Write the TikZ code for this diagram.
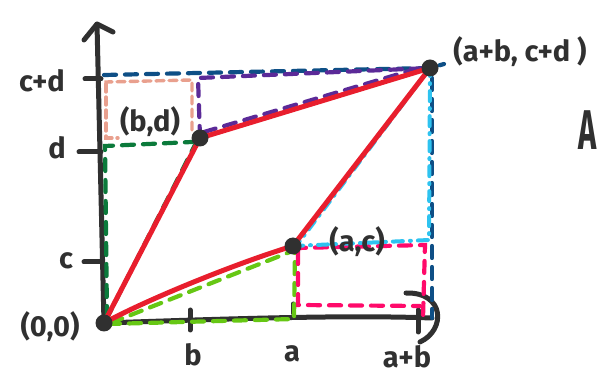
\documentclass[tikz,border=0pt]{standalone}
\usepackage{fontspec}
\setmainfont{Fira Sans}
\usetikzlibrary{calc}
\definecolor{axisc}{HTML}{303030}
\definecolor{redc}{HTML}{E81E2D}
\definecolor{dgreen}{HTML}{0B7A3B}
\definecolor{lgreen}{HTML}{66C714}
\definecolor{salmon}{HTML}{E9A08E}
\definecolor{purp}{HTML}{5B2A98}
\definecolor{dblue}{HTML}{0E4F86}
\definecolor{lblue}{HTML}{2EC3F0}
\definecolor{hpink}{HTML}{FF0A6A}
\tikzset{
  axisline/.style={draw=axisc,line width=5pt,line cap=round,line join=round},
  redline/.style={draw=redc,line width=5pt,line cap=round,line join=round},
  dashline/.style={line width=4.2pt,line cap=round,dash pattern=on 12pt off 9pt},
  dotdash/.style={line width=4pt,line cap=round,dash pattern=on 10pt off 7pt on 1pt off 7pt},
  pt/.style={circle,fill=axisc,inner sep=0pt,minimum size=17pt},
  lab/.style={text=axisc,font=\fontsize{29}{29}\selectfont\bfseries,inner sep=0pt},
}
\begin{document}
\begin{tikzpicture}[x=1pt,y=-1pt]
\useasboundingbox (0,0) rectangle (600,387);
% key points
\coordinate (O) at (104,323);
\coordinate (BD) at (200,138);
\coordinate (AC) at (293,246);
\coordinate (S) at (430,68);
% helper corners
\coordinate (Yd) at (105,146);
\coordinate (Ycd) at (104,75);
\coordinate (Bcd) at (198,78);
\coordinate (Xa) at (294,319);
\coordinate (ABc) at (429,240);
\coordinate (Yend) at (97,24);
\coordinate (Xend) at (432,318);
% axes
\draw[axisline] (O) -- (Yend);
\draw[axisline] (84,40) -- (Yend) -- (113,32);
\draw[axisline] (O) .. controls (250,318) and (350,315) .. (Xend);
\draw[axisline] (406,293) .. controls (445,292) and (446,330) .. (420,342);
% ticks
\draw[axisline] (85,79) -- (101,79);
\draw[axisline] (79,152) -- (101,152);
\draw[axisline] (84,262) -- (101,262);
\draw[axisline] (190,310) -- (190,330);
\draw[axisline] (293,304) -- (293,313);
\draw[axisline] (418,310) -- (418,332);
% salmon rectangle
\draw[dashline,draw=salmon,dash pattern=on 8pt off 5pt,line width=3.4pt] (106,84) -- (106,82) -- (192,80) -- (192,130);
\draw[dashline,draw=salmon,dash pattern=on 8pt off 5pt,line width=3.4pt] (106,84) -- (106,138) -- (118,138);
% dark blue
\draw[dashline,draw=dblue] (Ycd) -- (S) -- ++(14,-4);
\draw[dashline,draw=dblue] ($(S)+(2,10)$) -- (Xend);
% purple triangle
\draw[dashline,draw=purp] (BD) -- (Bcd) -- (S);
\draw[dashline,draw=purp] ($(BD)+(4,-6)$) -- ($(S)+(-4,-2)$);
% dark green triangle
\draw[dashline,draw=dgreen] ($(O)+(3,-5)$) -- (Yd) -- ($(BD)+(-8,4)$);
\draw[dashline,draw=dgreen] ($(O)+(2,-3)$) -- ($(BD)+(-3,3)$);
% light green triangle
\draw[dashline,draw=lgreen] ($(O)+(4,1)$) -- (Xa) -- ($(AC)+(2,4)$) -- cycle;
% hot pink rectangle
\draw[dashline,draw=hpink] (298,252) -- (298,248) -- (425,245) -- (423,318);
\draw[dashline,draw=hpink] (298,252) -- (298,305) -- (420,306);
% light blue triangle
\draw[dotdash,draw=lblue] (AC) -- (ABc) -- (S) -- ($(AC)+(4,-1)$);
% red lines
\draw[redline] (O) -- (BD) -- (S);
\draw[redline] (O) .. controls (150,298) and (240,262) .. (AC) -- (S);
% points
\node[pt] (O') at (O) {};
\node[pt] (BD') at (BD) {};
\node[pt] (AC') at (AC) {};
\node[pt] (S') at (S) {};
% labels
\node[lab] (lcd) at (42,81) {c+d};
\node[lab] (ld) at (57,148) {d};
\node[lab] (lc) at (66,261) {c};
\node[lab] (lo) at (50,327) {(0,0)};
\node[lab] (lb) at (193,355) {b};
\node[lab] (la) at (292,354) {a};
\node[lab] (lab1) at (407,357) {a+b};
\node[lab] (lbd) at (150,122) {(b,d)};
\node[lab] (lac) at (357,242) {(a,c)};
\node[lab] (ls) at (520,52) {(a+b, c+d )};
\node[text=axisc,font=\fontsize{56}{56}\selectfont\bfseries,inner sep=0pt,anchor=west,xscale=0.55] (lA) at (578,130) {A};
\end{tikzpicture}
\end{document}
